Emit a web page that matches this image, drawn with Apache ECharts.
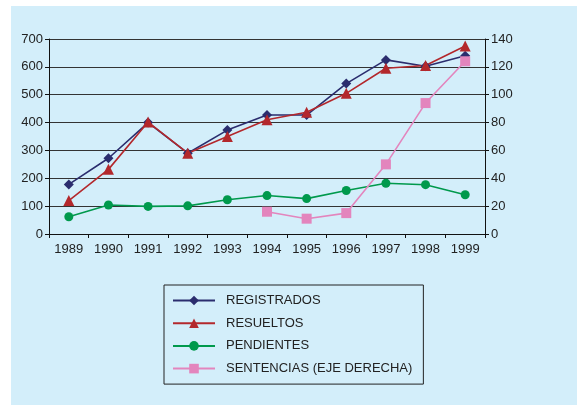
<!DOCTYPE html>
<html>
<head>
<meta charset="utf-8">
<script src="https://cdn.jsdelivr.net/npm/echarts@6/dist/echarts.min.js"></script>
<style>
  body { margin: 0; background: #fff; }
  #main { width: 577px; height: 405px; }
</style>
</head>
<body>
<div id="main"></div>
<script>
const years = ['1989', '1990', '1991', '1992', '1993', '1994', '1995', '1996', '1997', '1998', '1999']
const registrados = [178, 272, 400, 290, 373, 427, 427, 540, 625, 602, 640]
const resueltos = [120, 232, 402, 290, 350, 410, 437, 505, 595, 605, 675]
const pendientes = [62, 104, 99, 101, 123, 138, 127, 156, 182, 177, 141]
const sentencias = [null, null, null, null, null, 16, 11, 15, 50, 94, 124]

const chart = echarts.init(document.getElementById('main'))

const axisFont = { color: '#222', fontSize: 13, fontFamily: 'Liberation Sans, Arial, sans-serif' }

const option = {
  backgroundColor: '#fff',
  animation: false,
  graphic: [
    { type: 'rect', z: -10, shape: { x: 11, y: 6, width: 566, height: 399 }, style: { fill: '#d3eefa' } }
  ],
  grid: { left: 49, right: 92, top: 39, height: 195 },
  legend: {
    orient: 'vertical',
    left: 164,
    top: 285,
    padding: [9, 11, 9, 8],
    borderColor: '#222',
    borderWidth: 1,
    itemWidth: 42,
    itemHeight: 12,
    itemGap: 9.7,
    textStyle: { color: '#222', fontSize: 13, fontFamily: 'Liberation Sans, Arial, sans-serif', padding: [0, 0, 0, 6] },
    data: ['REGISTRADOS', 'RESUELTOS', 'PENDIENTES', 'SENTENCIAS (EJE DERECHA)']
  },
  xAxis: {
    type: 'category',
    data: years,
    boundaryGap: true,
    axisLine: { lineStyle: { color: '#111', width: 1 } },
    axisTick: { show: true, length: 4, lineStyle: { color: '#111' } },
    axisLabel: { ...axisFont, margin: 9 }
  },
  yAxis: [
    {
      type: 'value',
      min: 0, max: 700, interval: 100,
      axisLine: { show: true, lineStyle: { color: '#111' } },
      axisTick: { show: true, length: 4, lineStyle: { color: '#111' } },
      axisLabel: { ...axisFont, margin: 6 },
      splitLine: { lineStyle: { color: '#333', width: 1 } }
    },
    {
      type: 'value',
      min: 0, max: 140, interval: 20,
      position: 'right',
      axisLine: { show: true, lineStyle: { color: '#111' } },
      axisTick: { show: true, length: 4, lineStyle: { color: '#111' } },
      axisLabel: { ...axisFont, margin: 6 },
      splitLine: { show: false }
    }
  ],
  series: [
    {
      name: 'REGISTRADOS', type: 'line', data: registrados,
      symbol: 'diamond', symbolSize: 10,
      lineStyle: { color: '#2b2d6e', width: 1.6 },
      itemStyle: { color: '#2b2d6e' }
    },
    {
      name: 'RESUELTOS', type: 'line', data: resueltos,
      symbol: 'triangle', symbolSize: 11,
      lineStyle: { color: '#b3282c', width: 1.6 },
      itemStyle: { color: '#b3282c' }
    },
    {
      name: 'PENDIENTES', type: 'line', data: pendientes,
      symbol: 'circle', symbolSize: 9,
      lineStyle: { color: '#00994c', width: 1.6 },
      itemStyle: { color: '#00994c' }
    },
    {
      name: 'SENTENCIAS (EJE DERECHA)', type: 'line', data: sentencias, yAxisIndex: 1,
      symbol: 'rect', symbolSize: 10,
      lineStyle: { color: '#e385bd', width: 1.6 },
      itemStyle: { color: '#e385bd' }
    }
  ]
}

chart.setOption(option)
</script>
</body>
</html>
